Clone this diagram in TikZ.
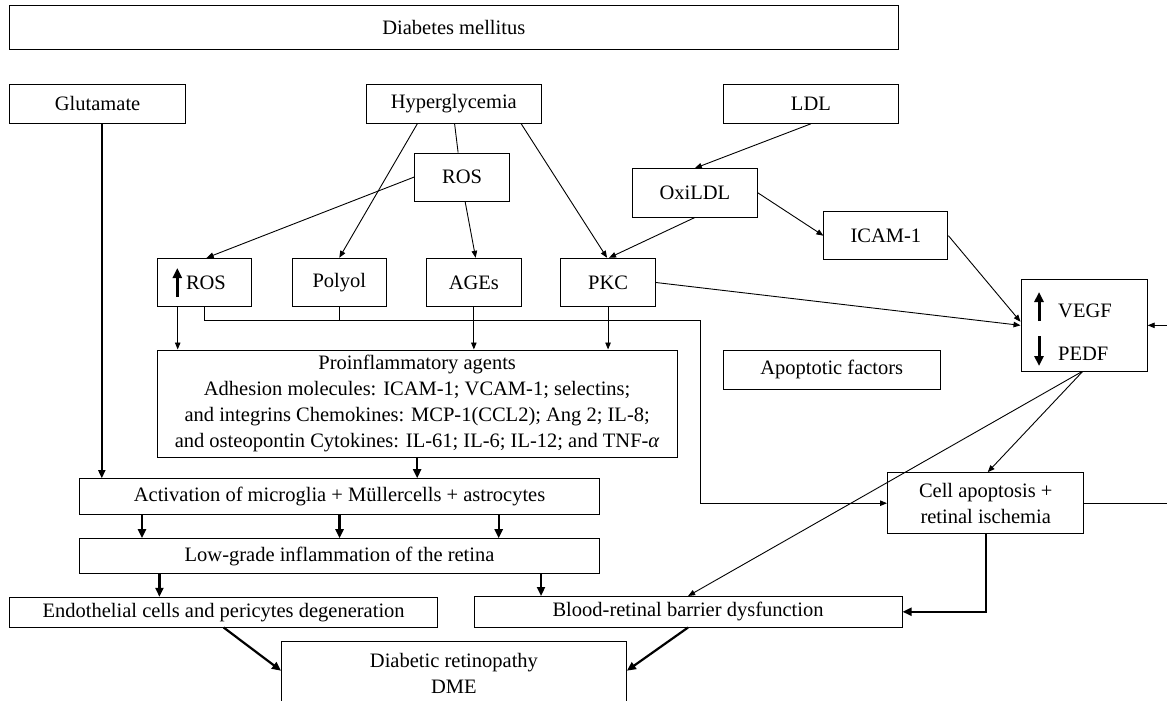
\documentclass[tikz,border=0pt]{standalone}
\usepackage{fontspec}
\setmainfont{Liberation Serif}
\usetikzlibrary{arrows.meta}
\newcommand\fs{\fontsize{20.5}{25.8}\selectfont}
\begin{document}
\begin{tikzpicture}[x=1pt,y=-1pt,
  box/.style={draw, line width=1pt, inner sep=0pt, align=center, font=\fs},
  ln/.style={line width=0.9pt},
  arr/.style={ln, -{Triangle[length=7pt,width=5.5pt]}},
  tarr/.style={line width=2.2pt, -{Triangle[length=9pt,width=8pt]}},
  bigarr/.style={line width=3pt, -{Triangle[length=10pt,width=9pt]}}]
\clip (0,0) rectangle (1167,701);
\fill[white] (0,0) rectangle (1167,701);
% nodes
\node[box, minimum width=888.4, minimum height=43.6] (dm) at (453.8,27.5) {Diabetes mellitus};
\node[box, minimum width=176, minimum height=39] (glu) at (97.6,103.8) {Glutamate};
\node[box, minimum width=174.4, minimum height=39] (hyp) at (453.8,103.8) {Hyperglycemia};
\node[box, minimum width=174.8, minimum height=39] (ldl) at (810.9,103.8) {LDL};
\node[box, minimum width=94.6, minimum height=48] (ros) at (462.1,177) {ROS};
\node[box, minimum width=125.1, minimum height=48.3] (oxi) at (694.85,192.85) {OxiLDL};
\node[box, minimum width=124, minimum height=48] (icam) at (885.9,235.7) {ICAM-1};
\node[box, minimum width=94.7, minimum height=48.4] (uros) at (204.45,282.5) {\hspace*{3pt}ROS};
\node[box, minimum width=94.6, minimum height=48.4] (poly) at (339.3,282.5) {Polyol};
\node[box, minimum width=95.1, minimum height=48.4] (ages) at (473.85,282.5) {AGEs};
\node[box, minimum width=94.7, minimum height=48.4] (pkc) at (608.05,282.5) {PKC};
\node[box, minimum width=126.2, minimum height=91.3] (vegf) at (1084.1,325.35) {};
\node[font=\fs, inner sep=0pt, anchor=west] (vegft) at (1058,310.7) {VEGF};
\node[font=\fs, inner sep=0pt, anchor=west] (pedft) at (1058,354) {PEDF};
\node[box, minimum width=520.1, minimum height=107] (pro) at (417.15,403.5)
  {Proinflammatory agents\\Adhesion molecules: ICAM-1; VCAM-1; selectins;\\and integrins Chemokines: MCP-1(CCL2); Ang 2; IL-8;\\and osteopontin Cytokines: IL-61; IL-6; IL-12; and TNF-\textit{α}};
\node[box, minimum width=216.5, minimum height=39.3] (apo) at (831.75,369.65) {Apoptotic factors};
\node[box, minimum width=520.1, minimum height=35.6] (act) at (339.55,496.5) {Activation of microglia + Müllercells + astrocytes};
\node[box, minimum width=520.1, minimum height=35] (low) at (339.55,556.2) {Low-grade inflammation of the retina};
\node[box, minimum width=196.4, minimum height=61] (cell) at (985.7,503.2) {Cell apoptosis +\\retinal ischemia};
\node[box, minimum width=427.7, minimum height=29.7] (endo) at (223.65,612.15) {Endothelial cells and pericytes degeneration};
\node[box, minimum width=427.9, minimum height=30.5] (brb) at (688.05,611.75) {Blood-retinal barrier dysfunction};
\node[box, minimum width=344.9, minimum height=120, anchor=north] (dr) at (453.95,641.3) {};
\node[font=\fs, align=center, inner sep=0pt, anchor=north] (drt) at ([yshift=-12pt]dr.north) {Diabetic retinopathy\\DME};
% glyph arrows
\draw[bigarr] (177.3,297) -- (177.3,268);
\draw[bigarr] (1039,321) -- (1039,292);
\draw[bigarr] (1039,336) -- (1039,366);
% connectors
\draw[arr] (ros.west) -- ([xshift=2.2pt]uros.north);
\draw[arr] ([xshift=-36.5pt]hyp.south) -- (poly.north);
\draw[ln] ([xshift=0.8pt]hyp.south) -- ([xshift=-4pt]ros.north);
\draw[arr] ([xshift=3pt]ros.south) -- ([xshift=1.8pt]ages.north);
\draw[arr] ([xshift=67.4pt]hyp.south) -- ([xshift=-1pt]pkc.north);
\draw[arr] (ldl.south) -- (oxi.north);
\draw[arr] (oxi.south) -- ([xshift=1pt]pkc.north);
\draw[arr] (oxi.east) -- (icam.west);
\draw[arr] (icam.east) -- ([yshift=3.6pt]vegf.west);
\draw[arr] (pkc.east) -- (vegf.west);
\draw[arr] (cell.east) -- ++(120,0) |- (vegf.east);
\draw[arr] ([xshift=-26.75pt]uros.south) coordinate (u1) -- (u1 |- pro.north);
\draw[arr] (ages.south) -- (ages.south |- pro.north);
\draw[arr] (pkc.south) -- (pkc.south |- pro.north);
\coordinate (bend) at (700.5,320);
\draw[arr] (uros.south) |- (bend) |- (cell.west);
\draw[ln] (poly.south) |- (272,320);
\draw[line width=1.8pt, -{Triangle[length=8pt,width=7pt]}] ([xshift=4.2pt]glu.south) coordinate (g1) -- (g1 |- act.north);
\draw[tarr] (pro.south) -- (pro.south |- act.north);
\foreach \dx in {-197.55,0,159.15} \draw[tarr] ([xshift=\dx pt]act.south) coordinate (a0) -- (a0 |- low.north);
\draw[tarr] ([xshift=-180.15pt]low.south) coordinate (a1) -- (a1 |- endo.north);
\draw[tarr] ([xshift=201.45pt]low.south) coordinate (a2) -- (a2 |- brb.north);
\draw[tarr] (endo.south) -- ([yshift=-29.4pt]dr.north west);
\draw[tarr] (brb.south) -- ([yshift=-29.4pt]dr.north east);
\draw[tarr] (cell.south) |- (brb.east);
\draw[arr] ([xshift=-1.5pt]vegf.south) -- ([xshift=2pt]cell.north);
\draw[arr] ([xshift=-2pt]vegf.south) -- (brb.north);
\end{tikzpicture}
\end{document}
